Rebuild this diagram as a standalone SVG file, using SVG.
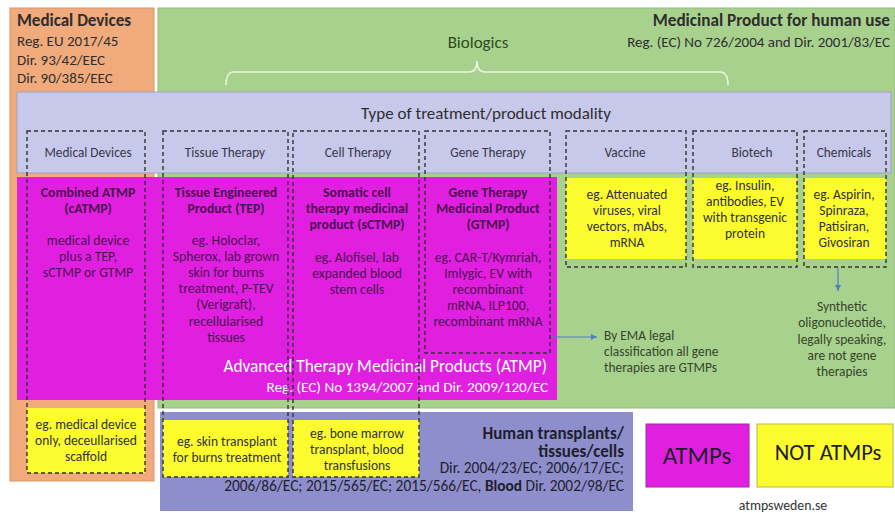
<svg xmlns="http://www.w3.org/2000/svg" width="895" height="513" viewBox="0 0 895 513">
  <defs>
    <style>
      text { font-family: Carlito, Lato, "Open Sans", sans-serif; }
      .b { font-weight: bold; }
      .mid { text-anchor: middle; }
      .end { text-anchor: end; }
      .dark { fill: #2e2e2e; }
      .hdr { fill: #363648; font-size: 13.3px; }
      .atmp { fill: #4a124e; font-size: 13.7px; }
      .yel { fill: #333333; font-size: 13.5px; }
      .note { fill: #34452a; font-size: 13.4px; }
      .col { fill: none; stroke: #333333; stroke-width: 1.4; stroke-dasharray: 4 3; }
      .arrow { stroke: #4f7fbf; stroke-width: 1.2; fill: none; }
    </style>
    <marker id="tip" markerWidth="8" markerHeight="8" refX="6" refY="4" orient="auto" markerUnits="userSpaceOnUse">
      <path d="M0,1 L6,4 L0,7 Z" fill="#4f7fbf"/>
    </marker>
  </defs>

  <rect width="895" height="513" fill="#ffffff"/>

  <!-- Regulatory frameworks -->
  <g id="medical-devices">
    <rect x="10" y="8" width="144" height="473" fill="#f0aa7c" stroke="#d99468" stroke-width="1"/>
    <text x="17" y="26" class="b dark" font-size="17">Medical Devices</text>
    <text x="17" y="46" class="dark" font-size="15">Reg. EU 2017/45</text>
    <text x="17" y="65" class="dark" font-size="15">Dir. 93/42/EEC</text>
    <text x="17" y="83" class="dark" font-size="15">Dir. 90/385/EEC</text>
  </g>

  <g id="medicinal-product">
    <rect x="158" y="8" width="737" height="400" fill="#a9d18e" stroke="#93b97a" stroke-width="1"/>
    <text x="890" y="26" class="b end dark" font-size="17.2">Medicinal Product for human use</text>
    <text x="890" y="47" class="end dark" font-size="15">Reg. (EC) No 726/2004 and Dir. 2001/83/EC</text>
    <text x="478" y="48" class="mid" fill="#2e4a22" font-size="17">Biologics</text>
  </g>

  <g id="biologics-brace">
    <path d="M226,85 Q226,72 234,72 L469,72 Q477,72 477,61 Q477,72 485,72 L720,72 Q728,72 728,85" fill="none" stroke="#e9f4dc" stroke-width="1.6"/>
  </g>

  <g id="modality">
    <rect x="17" y="92" width="874" height="81" fill="#c7c9ea" stroke="#9ea1c6" stroke-width="1"/>
    <text x="486" y="119" class="mid dark" font-size="17">Type of treatment/product modality</text>
  </g>

  <g id="atmp">
    <rect x="17" y="177" width="540" height="223" fill="#e11fe1"/>
    <text x="547" y="372" class="end" fill="#ffffff" font-size="17.3">Advanced Therapy Medicinal Products (ATMP)</text>
    <text x="548" y="392" class="end" fill="#ffffff" font-size="15.2">Reg. (EC) No 1394/2007 and Dir. 2009/120/EC</text>
  </g>

  <g id="human-transplants">
    <rect x="160" y="412" width="473" height="99" fill="#8e8ecc"/>
    <text x="624" y="439" class="b end" fill="#1e1e2e" font-size="17">Human transplants/</text>
    <text x="624" y="457" class="b end" fill="#1e1e2e" font-size="17">tissues/cells</text>
    <text x="624" y="473" class="end" fill="#1e1e2e" font-size="15.4">Dir. 2004/23/EC; 2006/17/EC;</text>
    <text x="624" y="491" class="end" fill="#1e1e2e" font-size="15.4">2006/86/EC; 2015/565/EC; 2015/566/EC, <tspan class="b">Blood</tspan> Dir. 2002/98/EC</text>
  </g>

  <!-- Examples that are not ATMPs -->
  <g id="yellow-boxes">
    <rect x="566" y="178" width="120" height="81" fill="#fbfb2e"/>
    <rect x="693" y="178" width="104" height="81" fill="#fbfb2e"/>
    <rect x="804" y="178" width="82" height="81" fill="#fbfb2e"/>
    <rect x="27" y="408" width="118" height="65" fill="#fbfb2e"/>
    <rect x="163" y="420" width="125" height="57" fill="#fbfb2e"/>
    <rect x="293" y="420" width="126" height="57" fill="#fbfb2e"/>
  </g>

  <!-- Modality columns -->
  <g id="col-medical-devices">
    <rect x="27" y="131" width="118" height="342" class="col"/>
    <text x="88" y="157" class="mid hdr">Medical Devices</text>
    <text x="88" y="197" class="mid b atmp">Combined ATMP</text>
    <text x="88" y="213" class="mid b atmp">(cATMP)</text>
    <text x="88" y="245" class="mid atmp">medical device</text>
    <text x="88" y="261" class="mid atmp">plus a TEP,</text>
    <text x="88" y="277" class="mid atmp">sCTMP or GTMP</text>
    <text x="86" y="429" class="mid yel">eg. medical device</text>
    <text x="86" y="445" class="mid yel">only, deceullarised</text>
    <text x="86" y="461" class="mid yel">scaffold</text>
  </g>

  <g id="col-tissue-therapy">
    <rect x="163" y="131" width="125" height="346" class="col"/>
    <text x="225" y="157" class="mid hdr">Tissue Therapy</text>
    <text x="226" y="197" class="mid b atmp">Tissue Engineered</text>
    <text x="226" y="213" class="mid b atmp">Product (TEP)</text>
    <text x="226" y="245" class="mid atmp">eg. Holoclar,</text>
    <text x="226" y="261" class="mid atmp">Spherox, lab grown</text>
    <text x="226" y="277" class="mid atmp">skin for burns</text>
    <text x="226" y="293" class="mid atmp">treatment, P-TEV</text>
    <text x="226" y="309" class="mid atmp">(Verigraft),</text>
    <text x="226" y="326" class="mid atmp">recellularised</text>
    <text x="226" y="342" class="mid atmp">tissues</text>
    <text x="227" y="446" class="mid yel">eg. skin transplant</text>
    <text x="227" y="462" class="mid yel">for burns treatment</text>
  </g>

  <g id="col-cell-therapy">
    <rect x="293" y="131" width="126" height="346" class="col"/>
    <text x="358" y="157" class="mid hdr">Cell Therapy</text>
    <text x="357" y="197" class="mid b atmp">Somatic cell</text>
    <text x="357" y="213" class="mid b atmp">therapy medicinal</text>
    <text x="357" y="229" class="mid b atmp">product (sCTMP)</text>
    <text x="357" y="262" class="mid atmp">eg. Alofisel, lab</text>
    <text x="357" y="278" class="mid atmp">expanded blood</text>
    <text x="357" y="294" class="mid atmp">stem cells</text>
    <text x="357" y="438" class="mid yel">eg. bone marrow</text>
    <text x="357" y="454" class="mid yel">transplant, blood</text>
    <text x="357" y="470" class="mid yel">transfusions</text>
  </g>

  <g id="col-gene-therapy">
    <rect x="425" y="131" width="125" height="222" class="col"/>
    <text x="488" y="157" class="mid hdr">Gene Therapy</text>
    <text x="488" y="197" class="mid b atmp">Gene Therapy</text>
    <text x="488" y="213" class="mid b atmp">Medicinal Product</text>
    <text x="488" y="229" class="mid b atmp">(GTMP)</text>
    <text x="488" y="262" class="mid atmp">eg. CAR-T/Kymriah,</text>
    <text x="488" y="278" class="mid atmp">Imlygic, EV with</text>
    <text x="488" y="294" class="mid atmp">recombinant</text>
    <text x="488" y="310" class="mid atmp">mRNA, ILP100,</text>
    <text x="488" y="326" class="mid atmp">recombinant mRNA</text>
  </g>

  <g id="col-vaccine">
    <rect x="566" y="131" width="120" height="136" class="col"/>
    <text x="625" y="157" class="mid hdr">Vaccine</text>
    <text x="627" y="199" class="mid yel">eg. Attenuated</text>
    <text x="627" y="215" class="mid yel">viruses, viral</text>
    <text x="627" y="231" class="mid yel">vectors, mAbs,</text>
    <text x="627" y="247" class="mid yel">mRNA</text>
  </g>

  <g id="col-biotech">
    <rect x="693" y="131" width="104" height="136" class="col"/>
    <text x="752" y="157" class="mid hdr">Biotech</text>
    <text x="745" y="190" class="mid yel">eg. Insulin,</text>
    <text x="745" y="206" class="mid yel">antibodies, EV</text>
    <text x="745" y="222" class="mid yel">with transgenic</text>
    <text x="745" y="238" class="mid yel">protein</text>
  </g>

  <g id="col-chemicals">
    <rect x="804" y="131" width="82" height="136" class="col"/>
    <text x="844" y="157" class="mid hdr">Chemicals</text>
    <text x="844" y="199" class="mid yel">eg. Aspirin,</text>
    <text x="844" y="215" class="mid yel">Spinraza,</text>
    <text x="844" y="231" class="mid yel">Patisiran,</text>
    <text x="844" y="247" class="mid yel">Givosiran</text>
  </g>

  <!-- Notes -->
  <g id="note-ema">
    <text x="604" y="340" class="note">By EMA legal</text>
    <text x="604" y="356" class="note">classification all gene</text>
    <text x="604" y="372" class="note">therapies are GTMPs</text>
  </g>

  <g id="note-oligo">
    <text x="842" y="311" class="mid note">Synthetic</text>
    <text x="842" y="327" class="mid note">oligonucleotide,</text>
    <text x="842" y="344" class="mid note">legally speaking,</text>
    <text x="842" y="360" class="mid note">are not gene</text>
    <text x="842" y="376" class="mid note">therapies</text>
  </g>

  <g id="connectors">
    <line x1="551" y1="337" x2="597" y2="337" class="arrow" marker-end="url(#tip)"/>
    <line x1="838" y1="268" x2="838" y2="291" class="arrow" marker-end="url(#tip)"/>
  </g>

  <!-- Legend -->
  <g id="legend-atmps">
    <rect x="646" y="424" width="103" height="63" fill="#e11fe1" stroke="#9a2aa0" stroke-width="1"/>
    <text x="697" y="464" class="mid" fill="#1e1e2e" font-size="25">ATMPs</text>
  </g>
  <g id="legend-not-atmps">
    <rect x="757" y="424" width="136" height="63" fill="#fbfb2e" stroke="#b8b84a" stroke-width="1"/>
    <text x="828" y="460" class="mid" fill="#1e1e2e" font-size="22.5">NOT ATMPs</text>
  </g>
  <g id="credit">
    <text x="783" y="510" class="mid" fill="#333333" font-size="13.8">atmpsweden.se</text>
  </g>
</svg>
